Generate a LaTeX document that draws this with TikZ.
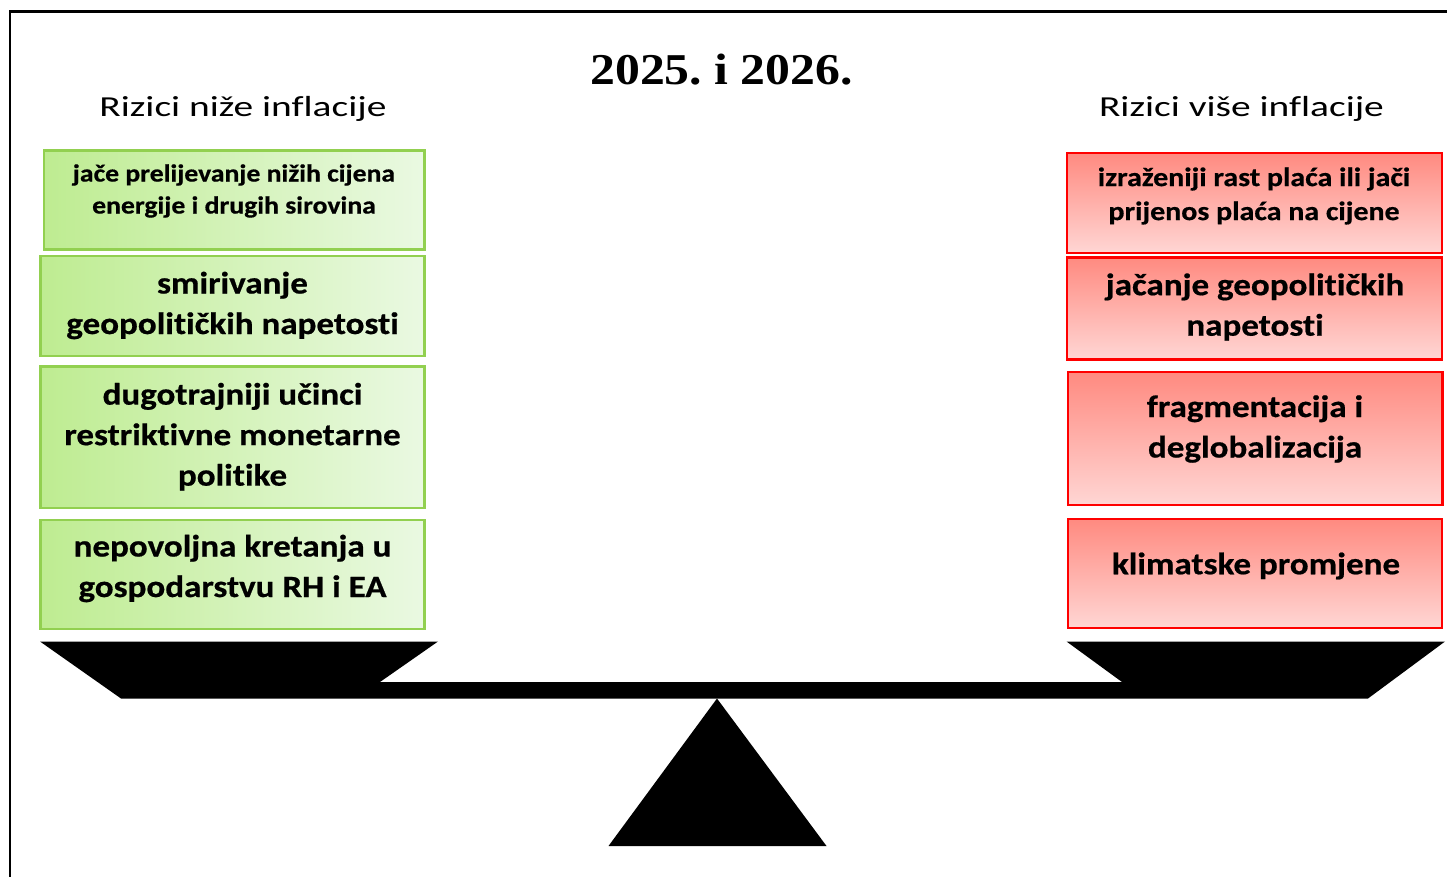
\documentclass[tikz,border=0pt]{standalone}
\usepackage{fontspec}
\setmainfont{Carlito}[Ligatures=NoCommon]
\newfontfamily\titlefont[FakeStretch=1.13]{Liberation Serif}
\newfontfamily\headfont[FakeStretch=1.36, Ligatures=NoCommon]{Carlito}
\newfontfamily\boxfont[FakeStretch=1.13, Ligatures=NoCommon, FakeBold=0.6]{Carlito}
\frenchspacing

\definecolor{low_line}{RGB}{146,208,80}
\definecolor{low_left}{RGB}{190,236,145}
\definecolor{low_right}{RGB}{234,249,226}
\definecolor{high_line}{RGB}{255,0,0}
\definecolor{high_top}{RGB}{255,138,128}
\definecolor{high_bottom}{RGB}{255,214,212}

\begin{document}
\begin{tikzpicture}[x=1pt, y=-1pt]
    \tikzstyle{risk_low}   = [shape = rectangle, draw = low_line,  line width=2.5pt, left color=low_left, right color=low_right]
    \tikzstyle{risk_high}  = [shape = rectangle, draw = high_line, line width=2.5pt, top color=high_top, bottom color=high_bottom]
    \tikzstyle{txt_big}    = [align=center, inner sep=0pt, font={\boxfont\bfseries\fontsize{31}{40.5}\selectfont}]
    \tikzstyle{txt_small}  = [align=center, inner sep=0pt, font={\boxfont\bfseries\fontsize{24.5}{32}\selectfont}]
    \tikzstyle{txt_smallr} = [align=center, inner sep=0pt, font={\boxfont\bfseries\fontsize{26.5}{34}\selectfont}]
    \tikzstyle{txt_head}   = [inner sep=0pt, font={\headfont\fontsize{29}{34}\selectfont}]

    \useasboundingbox (0,0) rectangle (1447,877);
    \draw[line width=2.5pt] (1447,11.5) -| (10,877);

    \node[inner sep=0pt, font={\titlefont\bfseries\fontsize{44}{50}\selectfont}] (title) at (721.5,70) {2025. i 2026.};
    \node[txt_head] (head_lo) at (243,108.5) {Rizici niže inflacije};
    \node[txt_head] (head_hi) at (1241.5,108.5) {Rizici više inflacije};

    % lower inflation
    \node[risk_low, minimum width=380.5, minimum height=99]  (lo1) at (234.3,200) {};
    \node[txt_small] (lo1_t) at (234,191) {jače prelijevanje nižih cijena\\energije i drugih sirovina};

    \node[risk_low, minimum width=384, minimum height=100]   (lo2) at (232.5,306) {};
    \node[txt_big] (lo2_t) at (232.5,305.5) {smirivanje\\geopolitičkih napetosti};

    \node[risk_low, minimum width=384, minimum height=141.5] (lo3) at (232.5,437.2) {};
    \node[txt_big] (lo3_t) at (232.5,436.7) {dugotrajniji učinci\\restriktivne monetarne\\politike};

    \node[risk_low, minimum width=384, minimum height=109]   (lo4) at (232.5,574.5) {};
    \node[txt_big] (lo4_t) at (232.5,568.5) {nepovoljna kretanja u\\gospodarstvu RH i EA};

    % higher inflation
    \node[risk_high, minimum width=375, minimum height=100]  (hi1) at (1254.5,203) {};
    \node[txt_smallr] (hi1_t) at (1254,196) {izraženiji rast plaća ili jači\\prijenos plaća na cijene};

    \node[risk_high, minimum width=375, minimum height=102]  (hi2) at (1254.5,308.3) {};
    \node[txt_big] (hi2_t) at (1255,307) {jačanje geopolitičkih\\napetosti};

    \node[risk_high, minimum width=374.5, minimum height=133] (hi3) at (1255.2,438.5) {};
    \node[txt_big] (hi3_t) at (1255,429) {fragmentacija i\\deglobalizacija};

    \node[risk_high, minimum width=374, minimum height=109]  (hi4) at (1255,573.5) {};
    \node[txt_big] (hi4_t) at (1256,566) {klimatske promjene};

    % scale
    \fill (40,641.5) -- (438,641.5) -- (380,682) -- (1122,682) -- (1066.5,641.5) -- (1445,641.5)
      -- (1368,698.5) -- (121,698.5) -- cycle;
    \fill (717,698.5) -- (826.5,846) -- (608.5,846) -- cycle;
  \end{tikzpicture}
\end{document}
